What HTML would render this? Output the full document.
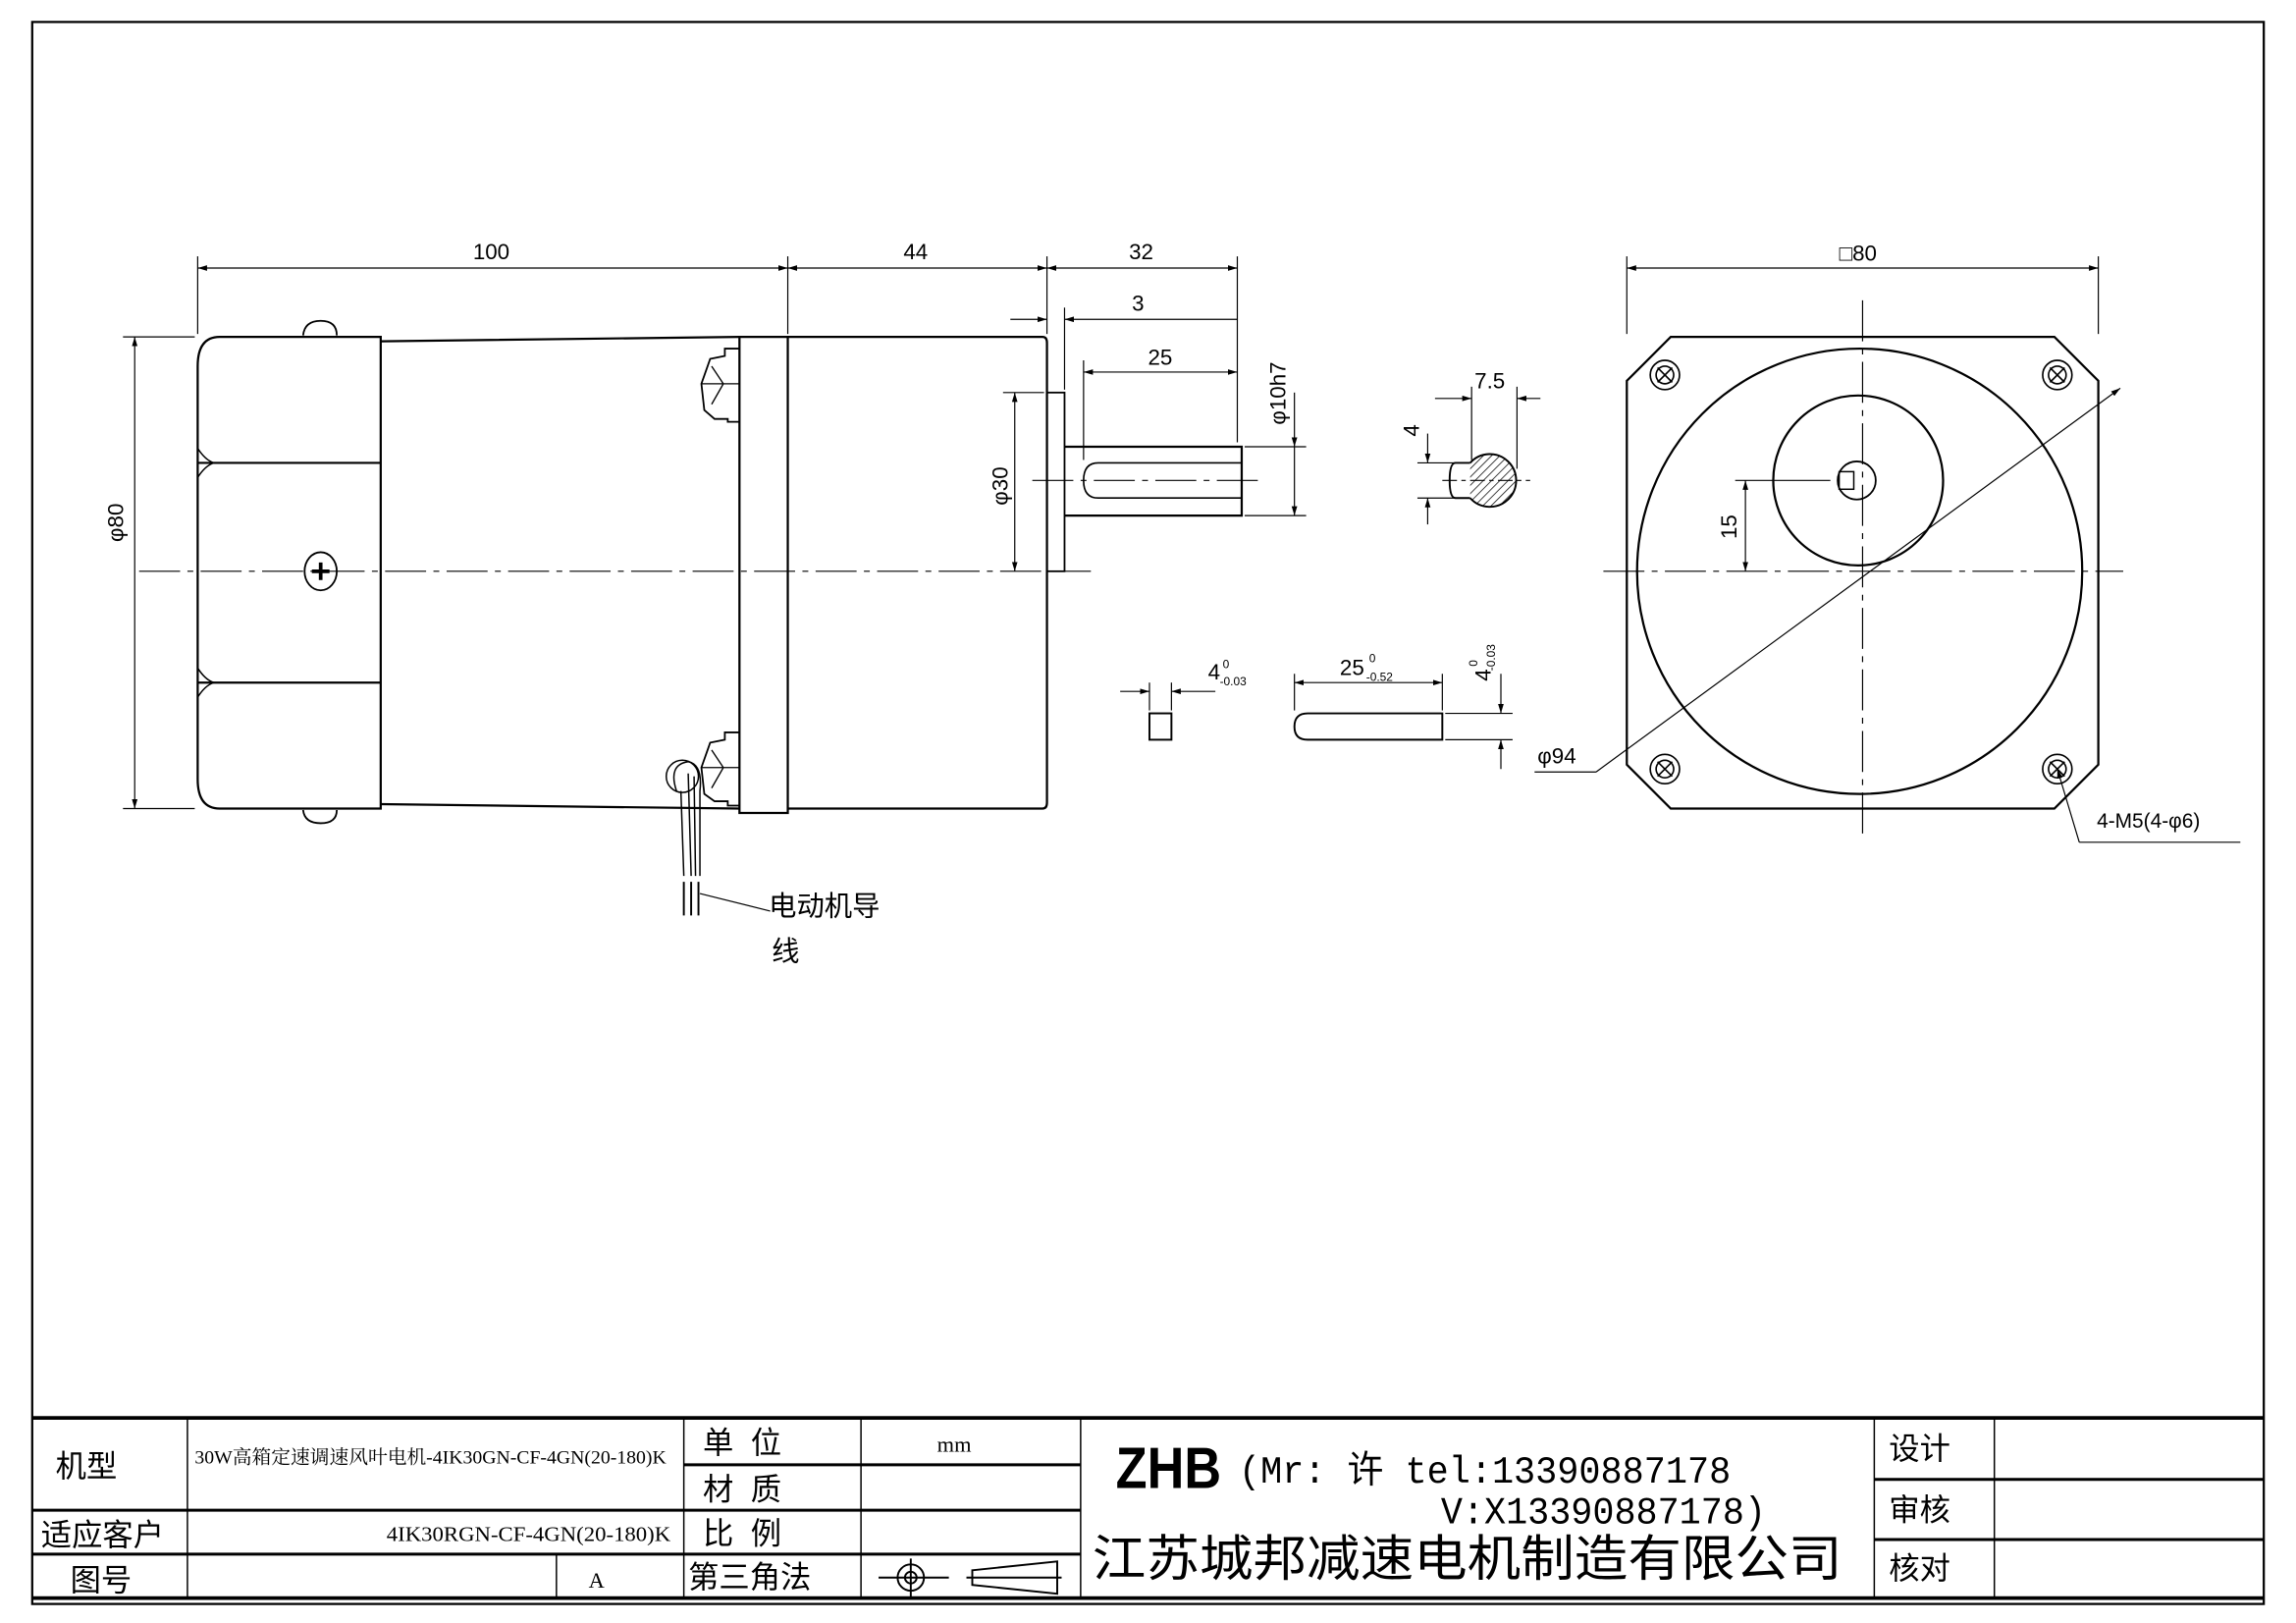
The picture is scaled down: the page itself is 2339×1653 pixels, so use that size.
<!DOCTYPE html>
<html><head><meta charset="utf-8"><style>html,body{margin:0;padding:0;background:#fff}svg{display:block}</style></head>
<body>
<svg xmlns="http://www.w3.org/2000/svg" width="2339" height="1653" viewBox="0 0 1568 1108" preserveAspectRatio="none" font-family="Liberation Sans, Noto Sans CJK SC, sans-serif">
<defs>
<marker id="a" viewBox="0 0 10 6" refX="10" refY="3" markerWidth="8" markerHeight="5" orient="auto-start-reverse"><path d="M0,0L10,3L0,6z" fill="#000"/></marker>
<pattern id="h" width="4" height="4" patternUnits="userSpaceOnUse" patternTransform="rotate(45)"><line x1="0" y1="0" x2="0" y2="4" stroke="#000" stroke-width="1"/></pattern>
</defs>
<rect width="1568" height="1108" fill="#fff"/>
<rect x="22" y="15" width="1524" height="1080" fill="none" stroke="#000" stroke-width="1.5"/>
<g stroke="#000" fill="none">
<line x1="22" y1="968" x2="1546" y2="968" stroke-width="2.5"/>
<line x1="22" y1="1091" x2="1546" y2="1091" stroke-width="2.5"/>
<line x1="22" y1="1031" x2="738" y2="1031" stroke-width="2"/>
<line x1="22" y1="1061" x2="738" y2="1061" stroke-width="2"/>
<line x1="467" y1="1000" x2="738" y2="1000" stroke-width="2"/>
<line x1="1280" y1="1010" x2="1546" y2="1010" stroke-width="2"/>
<line x1="1280" y1="1051" x2="1546" y2="1051" stroke-width="2"/>
<line x1="128" y1="968" x2="128" y2="1091" stroke-width="1"/>
<line x1="380" y1="1061" x2="380" y2="1091" stroke-width="1"/>
<line x1="467" y1="968" x2="467" y2="1091" stroke-width="1"/>
<line x1="588" y1="968" x2="588" y2="1091" stroke-width="1"/>
<line x1="738" y1="968" x2="738" y2="1091" stroke-width="1"/>
<line x1="1280" y1="968" x2="1280" y2="1091" stroke-width="1"/>
<line x1="1362" y1="968" x2="1362" y2="1091" stroke-width="1"/>
</g>
<g font-size="21" fill="#000">
<text x="38" y="1008">机型</text>
<text x="28" y="1055">适应客户</text>
<text x="48" y="1086">图号</text>
<text x="133" y="999" font-size="13" font-family="Liberation Serif, Noto Serif CJK SC, serif" textLength="322" lengthAdjust="spacingAndGlyphs">30W高箱定速调速风叶电机-4IK30GN-CF-4GN(20-180)K</text>
<text x="264" y="1052" font-size="14" font-family="Liberation Serif, Noto Serif CJK SC, serif" textLength="194" lengthAdjust="spacingAndGlyphs">4IK30RGN-CF-4GN(20-180)K</text>
<text x="402" y="1084" font-size="15" font-family="Liberation Serif, serif">A</text>
<text x="480" y="992">单 &#160;位</text>
<text x="480" y="1024">材 &#160;质</text>
<text x="480" y="1054">比 &#160;例</text>
<text x="470" y="1084">第三角法</text>
<text x="640" y="991" font-size="15" font-family="Liberation Serif, serif">mm</text>
<text x="1290" y="996">设计</text>
<text x="1290" y="1038">审核</text>
<text x="1290" y="1078">核对</text>
<text x="762" y="1016" font-size="40" font-weight="bold" textLength="72" lengthAdjust="spacingAndGlyphs">ZHB</text>
<text x="846" y="1012" font-size="26" font-family="Liberation Mono, Noto Sans CJK SC, monospace" textLength="336" lengthAdjust="spacingAndGlyphs">(Mr: 许 tel:13390887178</text>
<text x="984" y="1040" font-size="26" font-family="Liberation Mono, monospace" textLength="222" lengthAdjust="spacingAndGlyphs">V:X13390887178)</text>
<text x="746" y="1076" font-size="34" textLength="512" lengthAdjust="spacingAndGlyphs">江苏城邦减速电机制造有限公司</text>
</g>
<g stroke="#000" fill="none" stroke-width="1.3">
<line x1="600" y1="1077" x2="648" y2="1077"/>
<line x1="622" y1="1064" x2="622" y2="1090"/>
<circle cx="622" cy="1077" r="9"/><circle cx="622" cy="1077" r="4"/>
<path d="M664,1072 L722,1066 L722,1088 L664,1082 Z"/>
<line x1="660" y1="1077" x2="725" y2="1077"/>
</g>
<g stroke="#000" fill="none" stroke-width="1.5">
<path d="M260,230 L150,230 Q135,230 135,250 L135,532 Q135,552 150,552 L260,552 Z"/>
<line x1="135" y1="316" x2="260" y2="316"/><line x1="135" y1="466" x2="260" y2="466"/>
<path d="M135,306 Q140,314 146,316 Q140,318 135,326" stroke-width="1"/>
<path d="M135,456 Q140,464 146,466 Q140,468 135,476" stroke-width="1"/>
<path d="M260,233 L505,230 M260,549 L505,552"/>
<rect x="505" y="230" width="33" height="325"/>
<path d="M538,230 L712,230 Q715,230 715,234 L715,548 Q715,552 712,552 L538,552"/>
<rect x="715" y="268" width="12" height="122" stroke-width="1.2"/>
<path d="M727,305 L848,305 L848,352 L727,352"/>
<path d="M848,316 L750,316 Q740,316 740,328 Q740,340 750,340 L848,340" stroke-width="1.1"/>
<path d="M207,229 Q208,219 219,219 Q230,219 230,229" stroke-width="1.2"/>
<path d="M207,553 Q208,562 219,562 Q230,562 230,553" stroke-width="1.2"/>
<ellipse cx="219" cy="390" rx="11" ry="13" stroke-width="1.2"/>
<path d="M213,390h12M219,384v12" stroke-width="2.5"/>
<path d="M505,238 L495,238 L495,243 L485,245 L479,262 L481,280 L488,286 L497,286 L497,288 L505,288" stroke-width="1.2"/>
<path d="M479,262 L505,262 M486,250 L494,262 L486,276" stroke-width="0.9"/>
<path d="M505,500 L495,500 L495,505 L485,507 L479,524 L481,542 L488,547 L497,547 L497,550 L505,550" stroke-width="1.2"/>
<path d="M479,524 L505,524 M486,512 L494,524 L486,538" stroke-width="0.9"/>
<path d="M462,540 Q456,522 470,520 Q480,522 478,540 L478,598 M465,540 L467,598 M470,528 L472,598 M474,530 L475,598" stroke-width="1"/>
<path d="M467,602 L467,625 M472,602 L472,625 M477,602 L477,625" stroke-width="1.3"/>
<circle cx="466" cy="530" r="11" stroke-width="1"/>
<line x1="478" y1="610" x2="526" y2="622" stroke-width="0.8"/>
</g>
<text x="525" y="625" font-size="19" fill="#000">电动机导</text>
<text x="527" y="656" font-size="19" fill="#000">线</text>
<g stroke="#000" stroke-width="0.8" fill="none" stroke-dasharray="28,5,4,5">
<line x1="95" y1="390" x2="745" y2="390"/>
<line x1="1095" y1="390" x2="1450" y2="390"/>
<line x1="1272" y1="205" x2="1272" y2="572"/>
<line x1="705" y1="328" x2="860" y2="328"/>
</g>
<g stroke="#000" stroke-width="0.8" fill="none">
<line x1="135" y1="175" x2="135" y2="228"/><line x1="538" y1="175" x2="538" y2="228"/>
<line x1="715" y1="175" x2="715" y2="228"/><line x1="845" y1="175" x2="845" y2="302"/>
<line x1="135" y1="183" x2="538" y2="183" marker-start="url(#a)" marker-end="url(#a)"/>
<line x1="538" y1="183" x2="715" y2="183" marker-start="url(#a)" marker-end="url(#a)"/>
<line x1="715" y1="183" x2="845" y2="183" marker-start="url(#a)" marker-end="url(#a)"/>
<line x1="727" y1="210" x2="727" y2="266"/>
<line x1="690" y1="218" x2="715" y2="218" marker-end="url(#a)"/>
<line x1="845" y1="218" x2="727" y2="218" marker-end="url(#a)"/>
<line x1="740" y1="246" x2="740" y2="314"/>
<line x1="740" y1="254" x2="845" y2="254" marker-start="url(#a)" marker-end="url(#a)"/>
<line x1="850" y1="305" x2="892" y2="305"/><line x1="850" y1="352" x2="892" y2="352"/>
<line x1="884" y1="268" x2="884" y2="305" marker-end="url(#a)"/>
<line x1="884" y1="352" x2="884" y2="305" marker-start="url(#a)"/>
<line x1="685" y1="268" x2="713" y2="268"/>
<line x1="693" y1="268" x2="693" y2="390" marker-start="url(#a)" marker-end="url(#a)"/>
<line x1="84" y1="230" x2="133" y2="230"/><line x1="84" y1="552" x2="133" y2="552"/>
<line x1="92" y1="230" x2="92" y2="552" marker-start="url(#a)" marker-end="url(#a)"/>
</g>
<g font-size="15" fill="#000">
<text x="323" y="177">100</text><text x="617" y="177">44</text><text x="771" y="177">32</text>
<text x="773" y="212">3</text><text x="784" y="249">25</text>
<text transform="translate(878,290) rotate(-90)">φ10h7</text>
<text transform="translate(688,345) rotate(-90)">φ30</text>
<text transform="translate(84,370) rotate(-90)">φ80</text>
</g>
<g stroke="#000" fill="none" stroke-width="1.3">
<path d="M1004,316 A18,18 0 1 1 1004,340" fill="url(#h)"/>
<path d="M1004,316 L994,316 Q990,316 990,328 Q990,340 994,340 L1004,340"/>
<line x1="985" y1="328" x2="1045" y2="328" stroke-width="0.8" stroke-dasharray="10,3,3,3"/>
</g>
<g stroke="#000" stroke-width="0.8" fill="none">
<line x1="1005" y1="264" x2="1005" y2="314"/><line x1="1036" y1="264" x2="1036" y2="320"/>
<line x1="980" y1="272" x2="1005" y2="272" marker-end="url(#a)"/>
<line x1="1052" y1="272" x2="1036" y2="272" marker-end="url(#a)"/>
<line x1="968" y1="316" x2="1002" y2="316"/><line x1="968" y1="340" x2="1002" y2="340"/>
<line x1="975" y1="296" x2="975" y2="316" marker-end="url(#a)"/>
<line x1="975" y1="358" x2="975" y2="340" marker-end="url(#a)"/>
</g>
<text x="1007" y="265" font-size="15" fill="#000">7.5</text>
<text transform="translate(969,298) rotate(-90)" font-size="15" fill="#000">4</text>
<g stroke="#000" fill="none" stroke-width="1.3">
<rect x="785" y="487" width="15" height="18"/>
<path d="M985,487 L893,487 Q884,487 884,496 Q884,505 893,505 L985,505 Z"/>
</g>
<g stroke="#000" stroke-width="0.8" fill="none">
<line x1="785" y1="466" x2="785" y2="485"/><line x1="800" y1="466" x2="800" y2="485"/>
<line x1="765" y1="472" x2="785" y2="472" marker-end="url(#a)"/>
<line x1="830" y1="472" x2="800" y2="472" marker-end="url(#a)"/>
<line x1="884" y1="460" x2="884" y2="485"/><line x1="985" y1="460" x2="985" y2="485"/>
<line x1="884" y1="466" x2="985" y2="466" marker-start="url(#a)" marker-end="url(#a)"/>
<line x1="987" y1="487" x2="1033" y2="487"/><line x1="987" y1="505" x2="1033" y2="505"/>
<line x1="1025" y1="460" x2="1025" y2="487" marker-end="url(#a)"/>
<line x1="1025" y1="525" x2="1025" y2="505" marker-end="url(#a)"/>
</g>
<g fill="#000">
<text x="825" y="464" font-size="15">4</text><text x="835" y="456" font-size="8">0</text><text x="833" y="468" font-size="8">-0.03</text>
<text x="915" y="461" font-size="15">25</text><text x="935" y="452" font-size="8">0</text><text x="933" y="465" font-size="8">-0.52</text>
<text transform="translate(1018,465) rotate(-90)" font-size="15">4</text>
<text transform="translate(1009,455) rotate(-90)" font-size="8">0</text>
<text transform="translate(1021,458) rotate(-90)" font-size="8">-0.03</text>
</g>
<g stroke="#000" fill="none" stroke-width="1.5">
<path d="M1141,230 L1403,230 L1433,260 L1433,522 L1403,552 L1141,552 L1111,522 L1111,260 Z"/>
<circle cx="1270" cy="390" r="152"/>
<circle cx="1269" cy="328" r="58"/>
<circle cx="1268" cy="328" r="13" stroke-width="1.2"/>
<rect x="1256" y="322" width="10" height="12" stroke-width="1"/>
<g stroke-width="1.1">
<circle cx="1137" cy="256" r="10"/><circle cx="1137" cy="256" r="6"/><path d="M1132,251l10,10M1142,251l-10,10"/>
<circle cx="1405" cy="256" r="10"/><circle cx="1405" cy="256" r="6"/><path d="M1400,251l10,10M1410,251l-10,10"/>
<circle cx="1137" cy="525" r="10"/><circle cx="1137" cy="525" r="6"/><path d="M1132,520l10,10M1142,520l-10,10"/>
<circle cx="1405" cy="525" r="10"/><circle cx="1405" cy="525" r="6"/><path d="M1400,520l10,10M1410,520l-10,10"/>
</g>
</g>
<g stroke="#000" stroke-width="0.8" fill="none">
<line x1="1111" y1="175" x2="1111" y2="228"/><line x1="1433" y1="175" x2="1433" y2="228"/>
<line x1="1111" y1="183" x2="1433" y2="183" marker-start="url(#a)" marker-end="url(#a)"/>
<line x1="1448" y1="265" x2="1090" y2="527" marker-start="url(#a)"/>
<line x1="1048" y1="527" x2="1090" y2="527"/>
<line x1="1185" y1="328" x2="1250" y2="328"/>
<line x1="1192" y1="328" x2="1192" y2="390" marker-start="url(#a)" marker-end="url(#a)"/>
<line x1="1405" y1="525" x2="1420" y2="575" marker-start="url(#a)"/>
<line x1="1420" y1="575" x2="1530" y2="575"/>
</g>
<g font-size="15" fill="#000">
<text x="1256" y="178">□80</text>
<text x="1050" y="521">φ94</text>
<text transform="translate(1186,368) rotate(-90)">15</text>
<text x="1432" y="565" font-size="14">4-M5(4-φ6)</text>
</g>
</svg>
</body></html>
